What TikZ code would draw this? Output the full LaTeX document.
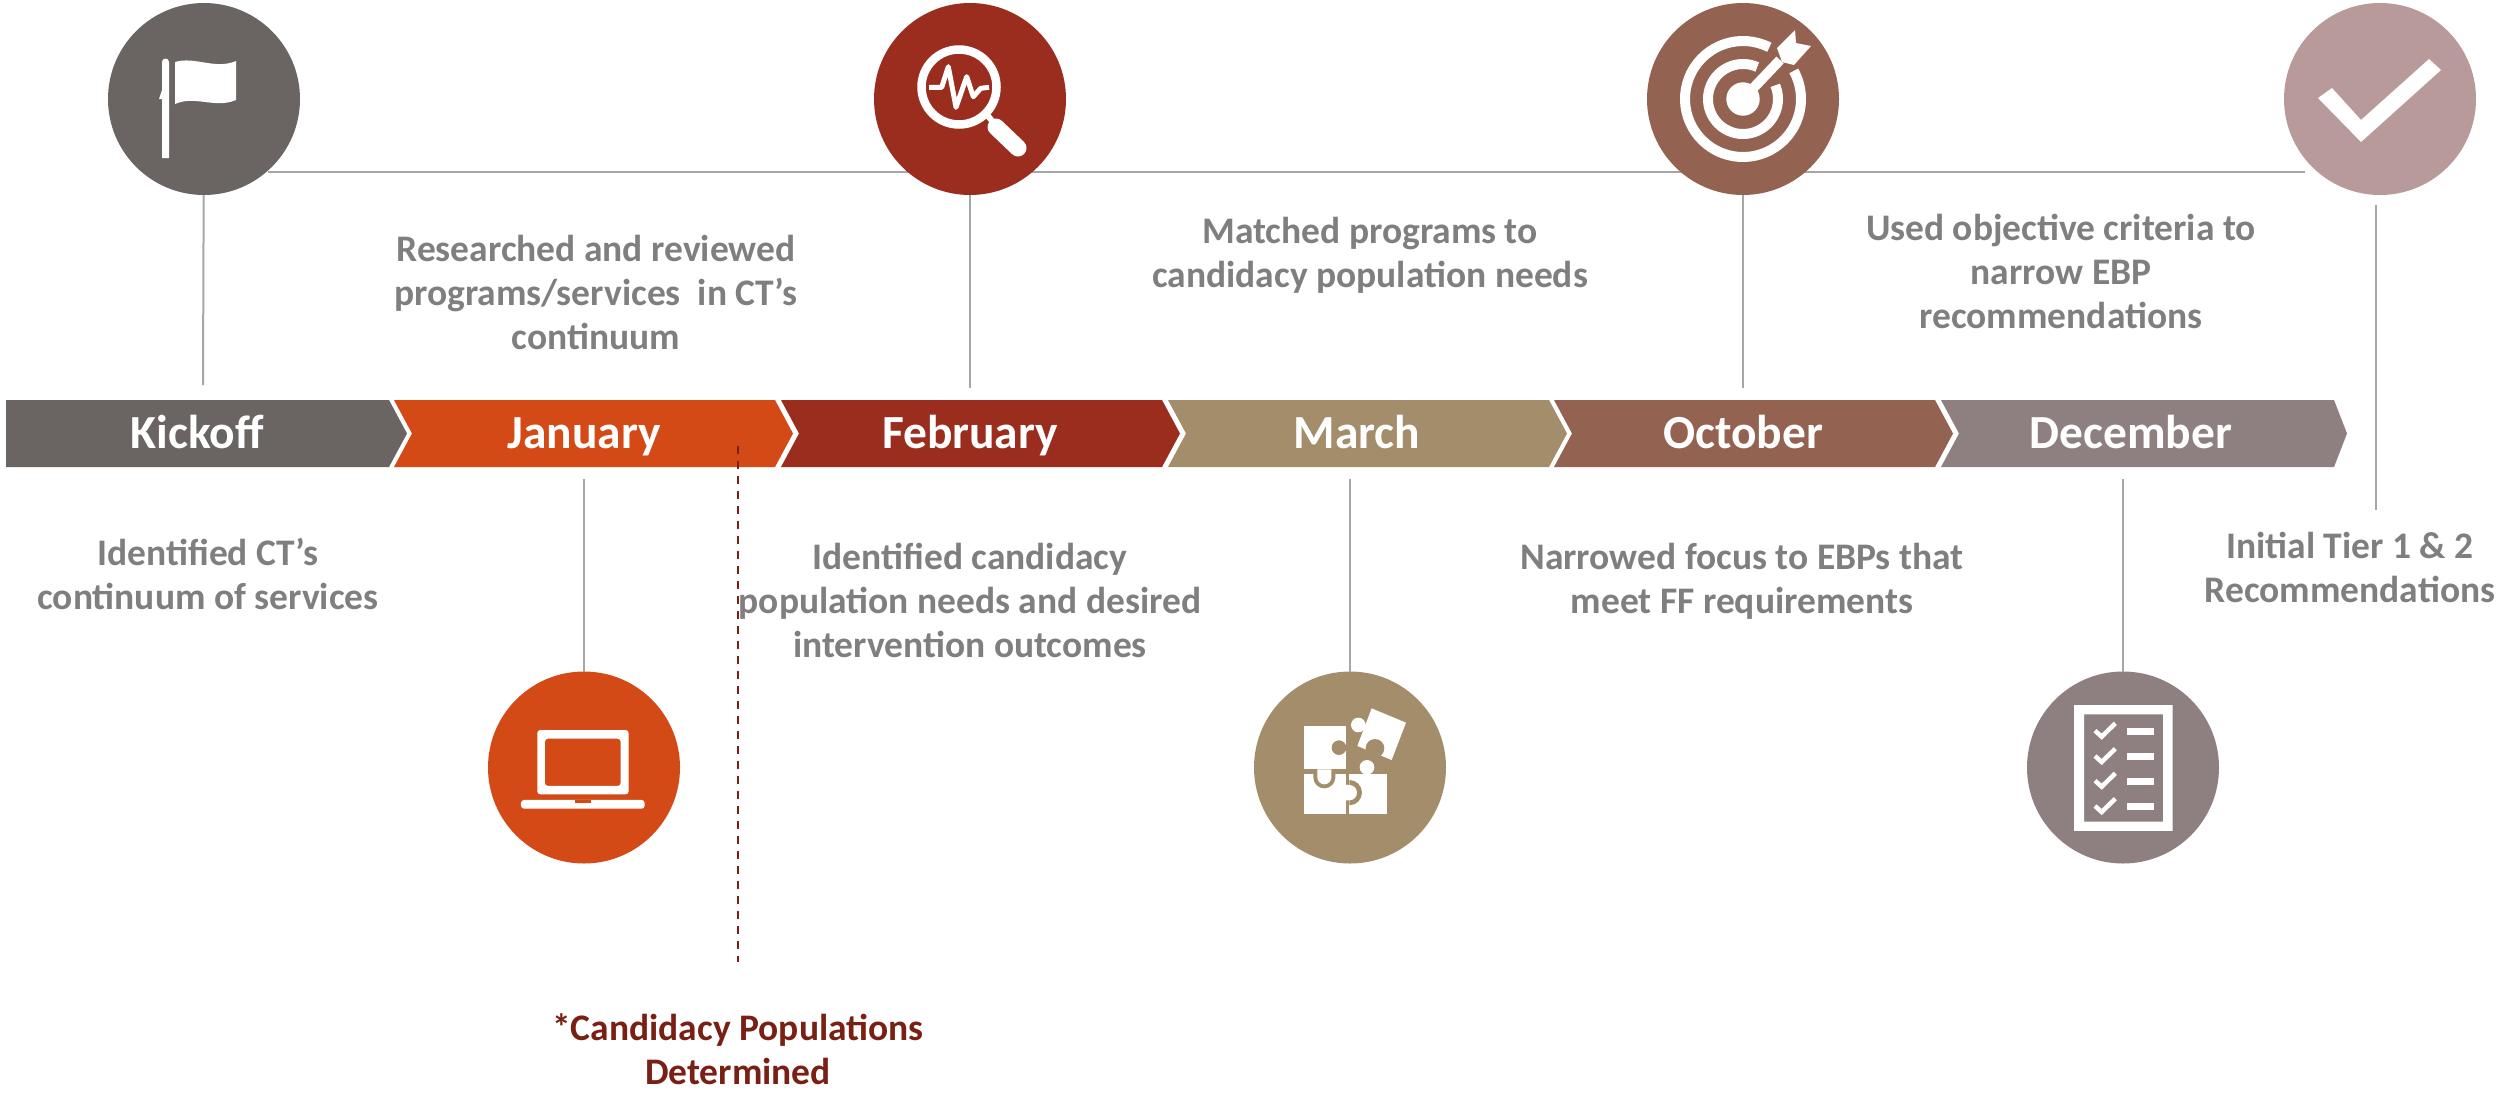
\documentclass[tikz,border=0pt]{standalone}
\usepackage{fontspec}
\setmainfont{Carlito}
\definecolor{cKick}{HTML}{6A6562}
\definecolor{cJan}{HTML}{D34A16}
\definecolor{cFeb}{HTML}{9B2D1F}
\definecolor{cMar}{HTML}{A38D6A}
\definecolor{cOct}{HTML}{946250}
\definecolor{cDec}{HTML}{8E8080}
\definecolor{cEnd}{HTML}{B89A9A}
\definecolor{cLine}{HTML}{A6A6A6}
\definecolor{cText}{HTML}{7F7F7F}
\definecolor{cNote}{HTML}{7A1F14}
\newcommand{\chev}[3]{\fill[#1] (#2,400) -- (#3,400) -- (#3+18,433.5) -- (#3,467) -- (#2,467) -- (#2+18,433.5) -- cycle;}
\begin{document}
\begin{tikzpicture}[x=1pt, y=-1pt,
		bar/.style={inner sep=0pt, text height=31pt, text depth=10pt, text=white, font=\fontsize{47.5}{50}\selectfont\bfseries},
		badge/.style={circle, minimum size=192pt, inner sep=0pt, outer sep=0pt},
		lbl/.style={align=center, inner sep=0pt, text=cText, font=\fontsize{37.5}{44}\selectfont\bfseries},
		ln/.style={cLine, line width=2pt},
		ic/.style={white, line width=3pt}]
	\useasboundingbox (0,0) rectangle (2509,1096);

	\coordinate (top1) at (268,172);
	\coordinate (top2) at (2305,172);
	\draw[ln] (top1) -- (top2);

	\node[badge, fill=cKick] (flag) at (204,99) {};
	\node[badge, fill=cFeb] (lens) at (970,99) {};
	\node[badge, fill=cOct] (target) at (1743,99) {};
	\node[badge, fill=cEnd] (tick) at (2380,99) {};
	\node[badge, fill=cJan] (laptop) at (584,767.5) {};
	\node[badge, fill=cMar] (puzzle) at (1350,767.5) {};
	\node[badge, fill=cDec] (list) at (2123,767.5) {};

	\fill[cKick] (6,400) -- (389,400) -- (407,433.5) -- (389,467) -- (6,467) -- cycle;
	\chev{cJan}{394}{775}
	\chev{cFeb}{781}{1162}
	\chev{cMar}{1168}{1549}
	\chev{cOct}{1554}{1935}
	\fill[cDec] (1941,400) -- (2334,400) -- (2347,433.5) -- (2334,467) -- (1941,467) -- (1959,433.5) -- cycle;

	\node[bar] (kickoff) at (197,438) {Kickoff};
	\node[bar] (jan) at (584,438) {January};
	\node[bar] (feb) at (970,438) {February};
	\node[bar] (mar) at (1357,438) {March};
	\node[bar] (oct) at (1743,438) {October};
	\node[bar] (dec) at (2131,438) {December};

	\node[lbl] (t1) at (208,574) {Identified CT’s\\continuum of services};
	\node[lbl] (t2) at (596,292.5) {Researched and reviewed\\programs/services~~in CT’s\\continuum};
	\node[lbl] (t3) at (970,600) {Identified candidacy\\population needs and desired\\intervention outcomes};
	\node[lbl] (t4) at (1370,255) {Matched programs to\\candidacy population needs};
	\node[lbl] (t5) at (1742,581) {Narrowed focus to EBPs that\\meet FF requirements};
	\node[lbl] (t6) at (2061,271) {Used objective criteria to\\narrow EBP\\recommendations};
	\node[lbl] (t7) at (2350,567) {Initial Tier 1 \& 2\\Recommendations};
	\node[lbl, text=cNote] (note) at (738,1049) {*Candidacy Populations\\Determined};

	\coordinate (c1) at (203,385);
	\coordinate (c2) at (970,388);
	\coordinate (c3) at (1743,388);
	\coordinate (c4a) at (2376,205);
	\coordinate (c4b) at (2376,510);
	\coordinate (c5) at (584,479);
	\coordinate (c6) at (1350,479);
	\coordinate (c7) at (2123,479);
	\coordinate (d1) at (738,446);
	\coordinate (d2) at (738,962);

	\draw[ln] (flag) -- (c1);
	\draw[ln] (lens) -- (c2);
	\draw[ln] (target) -- (c3);
	\draw[ln] (c4a) -- (c4b);
	\draw[ln] (c5) -- (laptop);
	\draw[ln] (c6) -- (puzzle);
	\draw[ln] (c7) -- (list);
	\draw[cNote, line width=1.5pt, dash pattern=on 8pt off 7pt] (d1) -- (d2);

	\fill[white] (162,62) arc[start angle=180, end angle=360, radius=3.5] -- (169,158) -- (162,158) -- cycle;
	\fill[white] (159,99) -- (162,90) -- (162,99) -- cycle;
	\fill[white] (175,62) .. controls (195,56) and (215,70) .. (236,61) -- (236,100) .. controls (215,109) and (195,95) .. (175,104) -- cycle;

	\draw[ic, line width=8.5pt] (959,87) circle (37.5);
	\draw[ic, line width=6pt] (988,116) -- (997,127);
	\draw[ic, line width=17pt, line cap=round] (996,127) -- (1018,148);
	\draw[ic, line width=5pt, line join=round] (929,87.3) -- (941.7,87.3) -- (948.3,66.7) -- (956,107.3) -- (966.7,76.7) -- (973.3,96.7) -- (980.7,88.3) -- (989,87.3);

	\fill[white] (1743,99) circle (16.7);
	\draw[ic, line width=10pt] (1743,99) -- (1780,60);
	\draw[ic, line width=10pt] (1743,99) ++(-63:58) arc[start angle=-63, end angle=-389, radius=58];
	\draw[ic, line width=10pt] (1743,99) ++(-66:35) arc[start angle=-66, end angle=-383, radius=35];
	\fill[white] (1777,48) -- (1795,30) -- (1796,43) -- (1811,46) -- (1794,65) -- (1782,62) -- cycle;

	\fill[white] (2318,98) -- (2332,88) -- (2361,120) -- (2429,59) -- (2441,70) -- (2361,142) -- cycle;

	\begin{scope}[shift={(450,640)}, x=0.3333pt, y=-0.3333pt]
		\fill[white, even odd rule, rounded corners=3pt] (262,463) -- (262,270) -- (536,270) -- (536,463) -- cycle (285,296) rectangle (512,438);
		\fill[white, rounded corners=3pt] (213,480) -- (584,480) -- (584,506) -- (213,506) -- cycle;
		\fill[cJan] (374,480) rectangle (422,488);
	\end{scope}

	\begin{scope}[shift={(1230,640)}, x=0.3333pt, y=-0.3333pt]
		\fill[white] (223,258) rectangle (347,388);
		\fill[white] (223,402) rectangle (347,523);
		\fill[white] (358,402) rectangle (472,523);
		\fill[cMar] (327,323) circle (22);
		\fill[cMar] (250,388) -- (250,412) arc[start angle=180, end angle=0, radius=33] -- (316,388) -- cycle;
		\fill[white] (262,388) -- (262,412) arc[start angle=180, end angle=0, radius=21] -- (304,388) -- cycle;
		\fill[cMar] (358,420) arc[start angle=-90, end angle=90, radius=38] -- cycle;
		\fill[white] (347,435) -- (358,435) arc[start angle=-90, end angle=90, radius=23] -- (347,481) -- cycle;
		\fill[white] (411,382) circle (22);
		\fill[white] (425,205) -- (528,248) -- (485,360) -- (382,318) -- cycle;
		\fill[white] (385,255) circle (22);
		\fill[cMar] (435,325) circle (28);
	\end{scope}

	\begin{scope}[shift={(2000,680)}, x=0.3333pt, y=-0.3333pt]
		\fill[white, even odd rule] (222,75) rectangle (518,453) (252,103) rectangle (489,425);
		\foreach \yy in {152,228,302,378} {
			\draw[ic, line width=4.5pt] (285,\yy) -- (305,\yy+18) -- (346,\yy-22);
			\fill[white] (381,\yy-8) rectangle (462,\yy+12);
		}
	\end{scope}
\end{tikzpicture}
\end{document}
